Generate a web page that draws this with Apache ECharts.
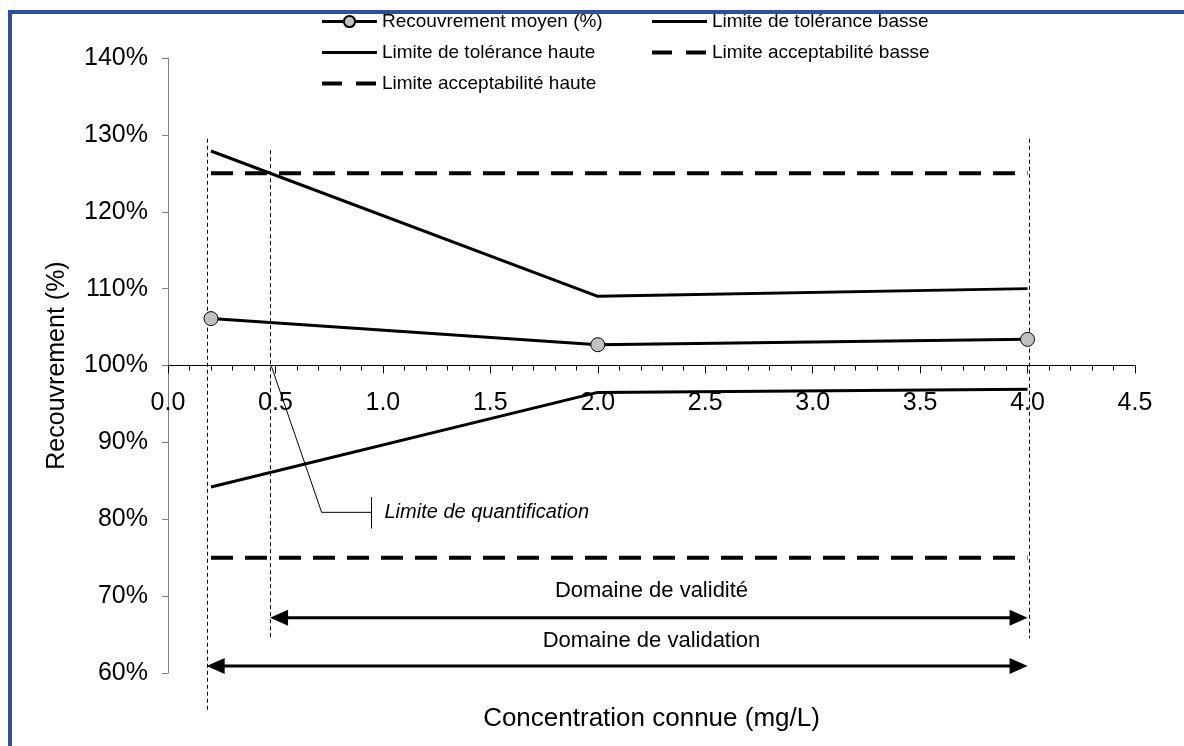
<!DOCTYPE html>
<html><head><meta charset="utf-8">
<script src="https://cdn.jsdelivr.net/npm/echarts@6/dist/echarts.min.js"></script>
<style>html,body{margin:0;padding:0;background:#fff}#c{width:1184px;height:746px}</style>
</head><body><div id="c"></div>
<script>
// ---- data ----
const concentrations = [0.2, 2.0, 4.0];
const recouvrementMoyen = [106.1, 102.7, 103.4];
const toleranceBasse = [84.2, 96.5, 96.9];
const toleranceHaute = [127.9, 109.0, 110.0];
const acceptConc = [0.2, 4.0];
const acceptBasse = [75, 75];
const acceptHaute = [125, 125];
const xTicks = [0, 0.5, 1, 1.5, 2, 2.5, 3, 3.5, 4, 4.5];
const yTicks = [60, 70, 80, 90, 100, 110, 120, 130, 140];
const seriesNames = ['Recouvrement moyen (%)', 'Limite de tolérance basse', 'Limite de tolérance haute', 'Limite acceptabilité basse', 'Limite acceptabilité haute'];
// annotations (data coordinates)
const guideLines = [[0.18, 129.5, 55.0], [0.475, 128, 64.5], [4.005, 129.5, 64.5]];
const domainArrows = [[0.475, 4.0, 67.2, 2.25, 70.7], [0.18, 4.0, 60.9, 2.25, 64.2]];
const domainLabels = ['Domaine de validité', 'Domaine de validation'];
const loqCallout = [[0.48, 100], [0.715, 80.9], [0.947, 80.9]];
const loqBar = [82.9, 78.8];
const loqLabel = 'Limite de quantification';

const FONT = 'Liberation Sans, Arial, sans-serif';
const grid = {left: 168, top: 58, right: 49, bottom: 73};
const gridH = 746 - grid.top - grid.bottom;
const yMin = yTicks[0], yMax = yTicks[yTicks.length - 1];
const xOffset = -gridH * (100 - yMin) / (yMax - yMin);

function pair(xs, ys) { return xs.map((x, i) => [x, ys[i]]); }

const solidIcon = {itemStyle: {opacity: 0}, lineStyle: {width: 3, color: '#000', type: 'solid'}};
const dashIcon = {itemStyle: {opacity: 0}, lineStyle: {width: 4, color: '#000', type: [20, 14]}};
function legendItem(i, extra) { return Object.assign({name: seriesNames[i]}, extra || {}); }

const chart = echarts.init(document.getElementById('c'), null, {renderer: 'canvas'});
const legendCommon = {
  orient: 'vertical', itemWidth: 55, itemHeight: 14, itemGap: 12, selectedMode: false,
  textStyle: {fontSize: 19, color: '#000', fontFamily: FONT}
};
chart.setOption({
  animation: false,
  backgroundColor: '#fff',
  grid: grid,
  legend: [
    Object.assign({left: 315, top: 7, data: [
      legendItem(0, {lineStyle: {width: 3, color: '#000'}}), legendItem(2, solidIcon), legendItem(4, dashIcon)]}, legendCommon),
    Object.assign({left: 645, top: 7, data: [legendItem(1, solidIcon), legendItem(3, dashIcon)]}, legendCommon)
  ],
  xAxis: {
    type: 'value', min: xTicks[0], max: xTicks[xTicks.length - 1], interval: xTicks[1] - xTicks[0],
    position: 'bottom', offset: xOffset,
    axisLine: {onZero: false, lineStyle: {color: '#000', width: 1}},
    axisTick: {show: true, length: 8, lineStyle: {color: '#000'}},
    minorTick: {show: true, splitNumber: 5, length: 5, lineStyle: {color: '#000'}},
    splitLine: {show: false},
    axisLabel: {formatter: v => v.toFixed(1), fontSize: 25, color: '#000', margin: 25, fontFamily: FONT},
    name: 'Concentration connue (mg/L)', nameLocation: 'middle', nameGap: 340,
    nameTextStyle: {fontSize: 26, color: '#000', fontFamily: FONT}
  },
  yAxis: {
    type: 'value', min: yMin, max: yMax, interval: yTicks[1] - yTicks[0],
    axisLine: {show: true, lineStyle: {color: '#808080', width: 1}},
    axisTick: {show: true, length: 6, lineStyle: {color: '#808080'}},
    splitLine: {show: false},
    axisLabel: {formatter: '{value}%', fontSize: 25, color: '#000', margin: 20, fontFamily: FONT},
    name: 'Recouvrement (%)', nameLocation: 'middle', nameGap: 98,
    nameTextStyle: {fontSize: 25, color: '#000', fontFamily: FONT}
  },
  graphic: [{
    type: 'rect', shape: {x: 10, y: 12, width: 1200, height: 800},
    style: {fill: 'none', stroke: '#2E50A0', lineWidth: 4}, silent: true, z: 100
  }],
  series: [
    {name: seriesNames[0], type: 'line', data: pair(concentrations, recouvrementMoyen), z: 5,
     symbol: 'circle', symbolSize: 14, itemStyle: {color: '#C0C0C0', borderColor: '#000', borderWidth: 1},
     lineStyle: {color: '#000', width: 3}},
    {name: seriesNames[1], type: 'line', data: pair(concentrations, toleranceBasse), symbol: 'none',
     itemStyle: {color: '#000'}, lineStyle: {color: '#000', width: 3}},
    {name: seriesNames[2], type: 'line', data: pair(concentrations, toleranceHaute), symbol: 'none',
     itemStyle: {color: '#000'}, lineStyle: {color: '#000', width: 3}},
    {name: seriesNames[3], type: 'line', data: pair(acceptConc, acceptBasse), symbol: 'none',
     itemStyle: {color: '#000'}, lineStyle: {color: '#000', width: 4, type: [22, 12]}},
    {name: seriesNames[4], type: 'line', data: pair(acceptConc, acceptHaute), symbol: 'none',
     itemStyle: {color: '#000'}, lineStyle: {color: '#000', width: 4, type: [22, 12]}},
    {type: 'custom', coordinateSystem: 'cartesian2d', silent: true, clip: false, z: 3,
     data: guideLines,
     renderItem(params, api) {
       const x = api.value(0);
       const p1 = api.coord([x, api.value(1)]), p2 = api.coord([x, api.value(2)]);
       const px = Math.round(p1[0]) + 0.5;
       return {type: 'line', shape: {x1: px, y1: p1[1], x2: px, y2: p2[1]},
               style: {stroke: '#000', lineWidth: 1, lineDash: [4, 3]}};
     }},
    {type: 'custom', coordinateSystem: 'cartesian2d', silent: true, clip: false, z: 4,
     data: domainArrows,
     renderItem(params, api) {
       const y = api.value(2);
       const a = api.coord([api.value(0), y]), b = api.coord([api.value(1), y]);
       const t = api.coord([api.value(3), api.value(4)]);
       const hl = 18, hw = 8;
       return {type: 'group', children: [
         {type: 'line', shape: {x1: a[0] + hl - 2, y1: a[1], x2: b[0] - hl + 2, y2: b[1]}, style: {stroke: '#000', lineWidth: 3}},
         {type: 'polygon', shape: {points: [[a[0], a[1]], [a[0] + hl, a[1] - hw], [a[0] + hl, a[1] + hw]]}, style: {fill: '#000'}},
         {type: 'polygon', shape: {points: [[b[0], b[1]], [b[0] - hl, b[1] - hw], [b[0] - hl, b[1] + hw]]}, style: {fill: '#000'}},
         {type: 'text', x: t[0], y: t[1], style: {text: domainLabels[params.dataIndex], fill: '#000', fontSize: 22, fontFamily: FONT, align: 'center', verticalAlign: 'middle'}}
       ]};
     }},
    {type: 'custom', coordinateSystem: 'cartesian2d', silent: true, clip: false, z: 4,
     data: [loqCallout[0]],
     renderItem(params, api) {
       const pts = loqCallout.map(p => api.coord(p));
       const end = loqCallout[loqCallout.length - 1];
       const b1 = api.coord([end[0], loqBar[0]]), b2 = api.coord([end[0], loqBar[1]]);
       return {type: 'group', children: [
         {type: 'polyline', shape: {points: pts}, style: {stroke: '#000', lineWidth: 1, fill: null}},
         {type: 'line', shape: {x1: b1[0], y1: b1[1], x2: b2[0], y2: b2[1]}, style: {stroke: '#000', lineWidth: 1}},
         {type: 'text', x: pts[2][0] + 13, y: pts[2][1], style: {text: loqLabel, fill: '#000', fontSize: 20, fontStyle: 'italic', fontFamily: FONT, align: 'left', verticalAlign: 'middle'}}
       ]};
     }}
  ]
});
</script></body></html>
